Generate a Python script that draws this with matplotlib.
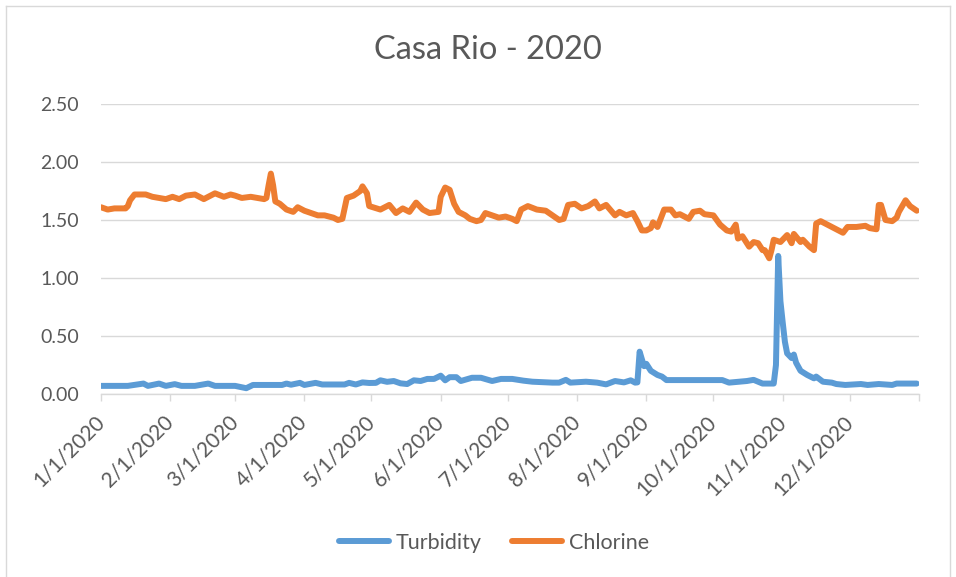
import pandas as pd
import matplotlib.pyplot as plt
from matplotlib.lines import Line2D

# Daily readings at selected days (day 0 = 1/1/2020)
chlorine_days = [0, 3, 6, 9, 11, 12, 13, 15, 20, 23, 29, 32, 35, 38, 42, 46, 51, 55, 58, 60,
                 63, 67, 73, 74, 75, 76, 77, 78, 80, 83, 86, 88, 91, 94, 97, 100, 104, 106, 108, 110,
                 113, 116, 117, 119, 120, 125, 129, 132, 135, 138, 141, 144, 147, 151, 152, 154, 156, 158, 160, 163,
                 165, 168, 170, 172, 175, 178, 181, 184, 186, 188, 191, 195, 199, 202, 205, 207, 209, 212, 215, 218,
                 221, 223, 226, 230, 232, 235, 238, 240, 242, 244, 246, 247, 249, 252, 255, 257, 259, 263, 265, 268,
                 270, 274, 277, 280, 282, 284, 285, 287, 290, 292, 294, 296, 297, 299, 300, 301, 304, 305, 307, 309,
                 310, 313, 314, 317, 319, 320, 322, 325, 329, 332, 334, 338, 342, 344, 347, 348, 349, 351, 354, 356,
                 357, 360, 362, 365]
chlorine_vals = [1.61, 1.59, 1.60, 1.60, 1.60, 1.62, 1.67, 1.72, 1.72, 1.70, 1.68, 1.70, 1.68, 1.71, 1.72, 1.68, 1.73, 1.70, 1.72, 1.71,
                 1.69, 1.70, 1.68, 1.69, 1.80, 1.90, 1.80, 1.66, 1.64, 1.59, 1.57, 1.61, 1.58, 1.56, 1.54, 1.54, 1.52, 1.50, 1.51, 1.69,
                 1.71, 1.75, 1.79, 1.73, 1.62, 1.59, 1.63, 1.56, 1.60, 1.57, 1.65, 1.59, 1.56, 1.57, 1.70, 1.78, 1.76, 1.64, 1.57, 1.54,
                 1.51, 1.49, 1.50, 1.56, 1.54, 1.52, 1.53, 1.51, 1.49, 1.59, 1.62, 1.59, 1.58, 1.54, 1.50, 1.51, 1.63, 1.64, 1.60, 1.62,
                 1.66, 1.60, 1.63, 1.54, 1.57, 1.54, 1.56, 1.49, 1.41, 1.41, 1.43, 1.48, 1.44, 1.59, 1.59, 1.54, 1.55, 1.51, 1.57, 1.58,
                 1.55, 1.54, 1.46, 1.41, 1.40, 1.46, 1.34, 1.36, 1.27, 1.31, 1.30, 1.24, 1.24, 1.17, 1.24, 1.33, 1.31, 1.33, 1.37, 1.30,
                 1.38, 1.31, 1.33, 1.27, 1.24, 1.47, 1.49, 1.46, 1.42, 1.39, 1.44, 1.44, 1.45, 1.43, 1.42, 1.63, 1.63, 1.50, 1.49, 1.52,
                 1.57, 1.67, 1.62, 1.58]

turbidity_days = [0, 12, 19, 21, 26, 29, 33, 36, 42, 48, 51, 60, 65, 68, 81, 83, 85, 89, 91, 96,
                  99, 109, 111, 114, 117, 120, 123, 125, 128, 131, 134, 137, 140, 143, 146, 149, 152, 154, 156, 159,
                  161, 166, 170, 175, 179, 184, 189, 193, 202, 205, 208, 210, 217, 222, 226, 230, 234, 237, 239, 240,
                  241, 242, 243, 244, 246, 249, 251, 253, 262, 271, 278, 281, 289, 292, 296, 301, 302, 303, 304, 305,
                  306, 307, 309, 310, 311, 313, 316, 319, 320, 323, 327, 329, 333, 340, 343, 348, 354, 356, 365]
turbidity_vals = [0.07, 0.07, 0.09, 0.07, 0.09, 0.07, 0.085, 0.07, 0.07, 0.09, 0.07, 0.07, 0.05, 0.078, 0.078, 0.09, 0.08, 0.096, 0.078, 0.096,
                  0.082, 0.082, 0.096, 0.082, 0.10, 0.095, 0.096, 0.118, 0.105, 0.112, 0.092, 0.086, 0.118, 0.112, 0.13, 0.13, 0.158, 0.118, 0.145, 0.145,
                  0.112, 0.14, 0.14, 0.112, 0.13, 0.13, 0.115, 0.106, 0.098, 0.098, 0.122, 0.098, 0.106, 0.098, 0.083, 0.112, 0.10, 0.118, 0.098, 0.10,
                  0.365, 0.30, 0.24, 0.26, 0.20, 0.164, 0.15, 0.12, 0.12, 0.12, 0.12, 0.098, 0.112, 0.122, 0.09, 0.09, 0.25, 1.19, 0.80, 0.62,
                  0.45, 0.35, 0.31, 0.34, 0.27, 0.20, 0.164, 0.135, 0.15, 0.106, 0.098, 0.086, 0.078, 0.086, 0.078, 0.086, 0.078, 0.09, 0.09]

month_ticks = pd.date_range("2020-01-01", "2021-01-01", freq="MS")
tick_labels = ["1/1/2020", "2/1/2020", "3/1/2020", "4/1/2020", "5/1/2020", "6/1/2020",
               "7/1/2020", "8/1/2020", "9/1/2020", "10/1/2020", "11/1/2020", "12/1/2020", ""]

start = pd.Timestamp("2020-01-01")
chl_dates = start + pd.to_timedelta(chlorine_days, unit="D")
turb_dates = start + pd.to_timedelta(turbidity_days, unit="D")

plt.rcParams['font.family'] = ['Lato', 'DejaVu Sans']
text_col = '#595959'
grid_col = '#D9D9D9'
blue = '#5B9BD5'
orange = '#ED7D31'

fig = plt.figure(figsize=(9.56, 5.77), dpi=100)
ax = fig.add_axes([101/956, 1 - 394/577, 818/956, 290/577])

ax.plot(turb_dates, turbidity_vals, color=blue, lw=4.3, solid_joinstyle='round', solid_capstyle='round')
ax.plot(chl_dates, chlorine_vals, color=orange, lw=4.3, solid_joinstyle='round', solid_capstyle='round')

ax.set_ylim(0, 2.5)
ax.set_yticks([0, 0.5, 1.0, 1.5, 2.0, 2.5])
ax.set_yticklabels(["0.00", "0.50", "1.00", "1.50", "2.00", "2.50"])
ax.set_xlim(start, pd.Timestamp("2021-01-01"))
ax.set_xticks(month_ticks)
ax.set_xticklabels(tick_labels, rotation=45, ha='right', va='center', rotation_mode='anchor')

ax.grid(axis='y', color=grid_col, lw=1.0)
ax.set_axisbelow(True)
for s in ['left', 'right', 'top']:
    ax.spines[s].set_visible(False)
ax.spines['bottom'].set_color(grid_col)
ax.spines['bottom'].set_linewidth(1.0)
ax.tick_params(axis='y', length=0, pad=16, labelsize=14, labelcolor=text_col)
ax.tick_params(axis='x', length=5, width=1.0, color=grid_col, pad=13, labelsize=15, labelcolor=text_col)

fig.text(488/956, 1 - 50/577, "Casa Rio - 2020", ha='center', va='center', fontsize=23.5, color=text_col)

handles = [Line2D([], [], color=blue, lw=4.3, solid_capstyle='round'),
           Line2D([], [], color=orange, lw=4.3, solid_capstyle='round')]
fig.legend(handles, ['Turbidity', 'Chlorine'], loc='center', bbox_to_anchor=(0.517, 1 - 543/577), ncol=2,
           frameon=False, fontsize=15.5, labelcolor=text_col, handlelength=2.3, handletextpad=0.35, columnspacing=1.4)

# chart border
for xs, ys in [([6, 6], [0, 571]), ([6, 950], [571, 571]), ([950, 950], [571, 0])]:
    fig.add_artist(Line2D([x/956 for x in xs], [y/577 for y in ys], color=grid_col, lw=1.0))

fig.savefig("out.png", dpi=100)
